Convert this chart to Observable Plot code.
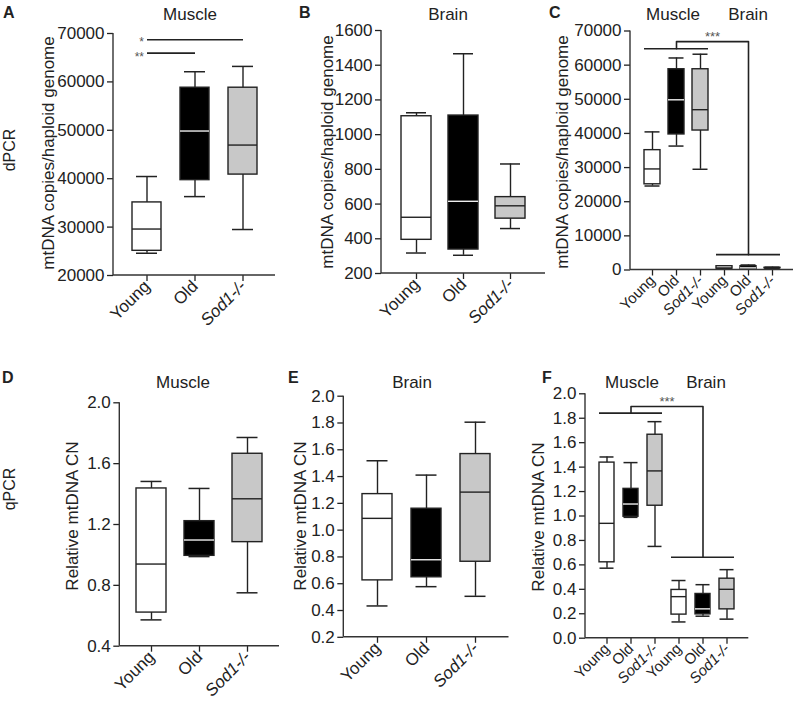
<!DOCTYPE html>
<html><head><meta charset="utf-8">
<script src="https://cdn.jsdelivr.net/npm/d3@7"></script>
<script src="https://cdn.jsdelivr.net/npm/@observablehq/plot@0.6"></script>
<style>
html,body{margin:0;padding:0;background:#fff;}
#fig{position:relative;width:794px;height:703px;overflow:hidden;font-family:"Liberation Sans",Arial,sans-serif;color:#222;background:#fff;}
.panel{position:absolute;}
.lab{position:absolute;white-space:nowrap;line-height:1;transform:translate(-50%,-50%);font-size:17px;}
.rot{transform:translate(-50%,-50%) rotate(-90deg);}
.letter{position:absolute;line-height:1;font-weight:bold;font-size:16px;}
</style></head><body><div id="fig"></div>
<script>
// ---------- data ----------
const groups = ["Young", "Old", "Sod1-/-"];
const tissues = ["Muscle", "Brain"];

// dPCR, muscle (mtDNA copies / haploid genome)
const dpcrMuscleMin    = [24600, 36300, 29500];
const dpcrMuscleQ1     = [25100, 39700, 40850];
const dpcrMuscleMedian = [29600, 49850, 46950];
const dpcrMuscleQ3     = [35100, 58800, 58800];
const dpcrMuscleMax    = [40450, 62100, 63200];

// dPCR, brain
const dpcrBrainMin    = [318, 305, 459];
const dpcrBrainQ1     = [394, 338, 516];
const dpcrBrainMedian = [524, 616, 590];
const dpcrBrainQ3     = [1106, 1110, 640];
const dpcrBrainMax    = [1126, 1466, 831];

// qPCR, muscle (relative mtDNA CN)
const qpcrMuscleMin    = [0.573, 0.989, 0.751];
const qpcrMuscleQ1     = [0.621, 0.994, 1.084];
const qpcrMuscleMedian = [0.940, 1.098, 1.369];
const qpcrMuscleQ3     = [1.437, 1.222, 1.665];
const qpcrMuscleMax    = [1.483, 1.437, 1.772];

// qPCR, brain (panel E)
const qpcrBrainMin    = [0.434, 0.578, 0.506];
const qpcrBrainQ1     = [0.625, 0.648, 0.764];
const qpcrBrainMedian = [1.088, 0.779, 1.284];
const qpcrBrainQ3     = [1.269, 1.160, 1.568];
const qpcrBrainMax    = [1.518, 1.411, 1.806];

// qPCR, brain relative to muscle (panel F)
const qpcrBrainRelMin    = [0.133, 0.180, 0.156];
const qpcrBrainRelQ1     = [0.193, 0.195, 0.236];
const qpcrBrainRelMedian = [0.340, 0.240, 0.400];
const qpcrBrainRelQ3     = [0.395, 0.362, 0.487];
const qpcrBrainRelMax    = [0.472, 0.438, 0.561];

// significance annotations
const sigAFrom  = ["Young", "Young"];
const sigATo    = ["Sod1-/-", "Old"];
const sigAY     = [68700, 65950];
const sigALabel = ["*", "**"];
const dpcrBracketY = [64800, 66900, 4500];   // muscle bar, top, brain bar
const qpcrBracketY = [1.842, 1.896, 0.663];
const bracketLabel = "***";

// y ticks
const ticksA = d3.range(20000, 70001, 10000);
const ticksB = d3.range(200, 1601, 200);
const ticksC = d3.range(0, 70001, 10000);
const ticksD = [0.4, 0.8, 1.2, 1.6, 2.0];
const ticksE = d3.range(2, 21, 2).map(v => v / 10);
const ticksF = d3.range(0, 21, 2).map(v => v / 10);

// ---------- helpers ----------
const palette = {Young: "white", Old: "black", "Sod1-/-": "#c8c8c8"};
const INK = "#222";
function rows(keys, mins, q1s, meds, q3s, maxs) {
  return keys.map((g, i) => ({g, grp: g.includes("|") ? g.split("|")[1] : g,
    min: mins[i], q1: q1s[i], median: meds[i], q3: q3s[i], max: maxs[i]}));
}
const lab = d => d.includes("|") ? d.split("|")[1] : d;

function panel(spec) {
  const {data, left, top, width, height, mL, mR, mT, mB, yDomain, yTicks, yFmt,
         pi, po, cap, xFont, extra = []} = spec;
  const keys = data.map(d => d.g);
  const light = data.filter(d => d.grp !== "Old");
  const dark = data.filter(d => d.grp === "Old");
  const svg = Plot.plot({
    width, height, marginLeft: mL, marginRight: mR, marginTop: mT, marginBottom: mB,
    style: {fontFamily: '"Liberation Sans", Arial, sans-serif', fontSize: "17px", color: INK,
            background: "transparent", overflow: "visible"},
    x: {domain: keys, paddingInner: pi, paddingOuter: po, label: null},
    y: {domain: yDomain, label: null},
    color: {domain: keys, range: data.map(d => palette[d.grp])},
    marks: [
      Plot.axisY(yTicks, {tickFormat: yFmt, tickSize: 6, tickPadding: 3, fontSize: 17,
                          strokeWidth: 1.3, label: null}),
      Plot.axisX({tickRotate: -45, tickSize: 6, tickPadding: 2, fontSize: xFont,
                  strokeWidth: 1.3, tickFormat: lab, label: null}),
      Plot.ruleX(data, {x: "g", y1: "min", y2: "max", stroke: INK, strokeWidth: 1.4}),
      Plot.tickY(data, {x: "g", y: "min", stroke: INK, strokeWidth: 1.5, insetLeft: cap, insetRight: cap}),
      Plot.tickY(data, {x: "g", y: "max", stroke: INK, strokeWidth: 1.5, insetLeft: cap, insetRight: cap}),
      Plot.barY(data, {x: "g", y1: "q1", y2: "q3", fill: "g", stroke: INK, strokeWidth: 1.4}),
      Plot.tickY(light, {x: "g", y: "median", stroke: INK, strokeWidth: 1.4}),
      Plot.tickY(dark, {x: "g", y: "median", stroke: "#eee", strokeWidth: 1.4}),
      ...extra
    ]
  });
  // axis lines (left and bottom), from the plot's own scales
  const yr = svg.scale("y").range;
  const g = d3.select(svg).append("g").attr("stroke", "#333").attr("stroke-width", 1.4);
  g.append("line").attr("x1", mL).attr("x2", mL).attr("y1", yr[0]).attr("y2", yr[1]);
  g.append("line").attr("x1", mL).attr("x2", width - mR).attr("y1", yr[0]).attr("y2", yr[0]);
  d3.select(svg).selectAll("text").filter(function () { return this.textContent === "Sod1-/-"; })
    .attr("font-style", "italic");
  const div = document.createElement("div");
  div.className = "panel";
  div.style.left = left + "px";
  div.style.top = top + "px";
  div.appendChild(svg);
  document.getElementById("fig").appendChild(div);
}

function bracket(yv, label) {
  const m = t => "Muscle|" + t, b = t => "Brain|" + t;
  const bars = [{a: m("Young"), z: m("Sod1-/-"), y: yv[0]}, {a: b("Young"), z: b("Sod1-/-"), y: yv[2]}];
  const path = [{x: m("Old"), y: yv[0]}, {x: m("Old"), y: yv[1]}, {x: b("Old"), y: yv[1]}, {x: b("Old"), y: yv[2]}];
  return [
    Plot.ruleY(bars, {y: "y", x1: "a", x2: "z", stroke: INK, strokeWidth: 1.6}),
    Plot.line(path, {x: "x", y: "y", stroke: INK, strokeWidth: 1.6}),
    Plot.text([{x: m("Sod1-/-"), y: yv[1], t: label}], {x: "x", y: "y", text: "t", dx: 12, dy: -5,
      fill: "#555", fontSize: 13})
  ];
}

const dpcrMuscle = rows(groups, dpcrMuscleMin, dpcrMuscleQ1, dpcrMuscleMedian, dpcrMuscleQ3, dpcrMuscleMax);
const dpcrBrain = rows(groups, dpcrBrainMin, dpcrBrainQ1, dpcrBrainMedian, dpcrBrainQ3, dpcrBrainMax);
const qpcrMuscle = rows(groups, qpcrMuscleMin, qpcrMuscleQ1, qpcrMuscleMedian, qpcrMuscleQ3, qpcrMuscleMax);
const qpcrBrain = rows(groups, qpcrBrainMin, qpcrBrainQ1, qpcrBrainMedian, qpcrBrainQ3, qpcrBrainMax);
const mk = t => groups.map(g => t + "|" + g);
const dpcrBoth = rows(mk("Muscle"), dpcrMuscleMin, dpcrMuscleQ1, dpcrMuscleMedian, dpcrMuscleQ3, dpcrMuscleMax)
  .concat(rows(mk("Brain"), dpcrBrainMin, dpcrBrainQ1, dpcrBrainMedian, dpcrBrainQ3, dpcrBrainMax));
const qpcrBoth = rows(mk("Muscle"), qpcrMuscleMin, qpcrMuscleQ1, qpcrMuscleMedian, qpcrMuscleQ3, qpcrMuscleMax)
  .concat(rows(mk("Brain"), qpcrBrainRelMin, qpcrBrainRelQ1, qpcrBrainRelMedian, qpcrBrainRelQ3, qpcrBrainRelMax));

const sigA = sigAFrom.map((f, i) => ({a: f, z: sigATo[i], y: sigAY[i], t: sigALabel[i]}));
const fmtInt = d3.format("d"), fmt1 = d3.format(".1f");

// A
panel({data: dpcrMuscle, left: 0, top: 0, width: 280, height: 345, mL: 113, mR: 5, mT: 33, mB: 70,
  yDomain: [20000, 70000], yTicks: ticksA, yFmt: fmtInt, pi: 0.4, po: 0.38, cap: 4, xFont: 17,
  extra: [
    Plot.link(sigA, {x1: "a", x2: "z", y1: "y", y2: "y", stroke: INK, strokeWidth: 1.6}),
    Plot.text(sigA.slice(0, 1), {x: "a", y: "y", text: "t", textAnchor: "end", dx: -3, dy: 2,
      fill: "#555", fontSize: 12}),
    Plot.text(sigA.slice(1), {x: "a", y: "y", text: "t", textAnchor: "end", dx: -3, dy: 4,
      fill: "#555", fontSize: 12})
  ]});
// B
panel({data: dpcrBrain, left: 280, top: 0, width: 270, height: 345, mL: 101, mR: 5, mT: 30, mB: 72,
  yDomain: [200, 1600], yTicks: ticksB, yFmt: fmtInt, pi: 0.36, po: 0.39, cap: 5, xFont: 17});
// C
panel({data: dpcrBoth, left: 550, top: 0, width: 244, height: 345, mL: 80, mR: 1, mT: 30.5, mB: 75.5,
  yDomain: [0, 70000], yTicks: ticksC, yFmt: fmtInt, pi: 0.35, po: 0.48, cap: 0.5, xFont: 15,
  extra: bracket(dpcrBracketY, bracketLabel)});
// D
panel({data: qpcrMuscle, left: 0, top: 345, width: 285, height: 358, mL: 119.3, mR: 6, mT: 57.3, mB: 57.3,
  yDomain: [0.4, 2.0], yTicks: ticksD, yFmt: fmt1, pi: 0.38, po: 0.335, cap: 4.5, xFont: 17});
// E
panel({data: qpcrBrain, left: 285, top: 345, width: 265, height: 358, mL: 58.3, mR: 41.5, mT: 50.7, mB: 66.2,
  yDomain: [0.2, 2.0], yTicks: ticksE, yFmt: fmt1, pi: 0.39, po: 0.354, cap: 4.5, xFont: 17});
// F
panel({data: qpcrBoth, left: 550, top: 345, width: 244, height: 358, mL: 35, mR: 45.7, mT: 48.3, mB: 65.3,
  yDomain: [0, 2.0], yTicks: ticksF, yFmt: fmt1, pi: 0.37, po: 0.49, cap: 0.5, xFont: 15,
  extra: bracket(qpcrBracketY, bracketLabel)});

// ---------- text labels ----------
const fig = document.getElementById("fig");
function addLabel(text, cx, cy, cls = "lab", size) {
  const d = document.createElement("div");
  d.className = cls;
  d.textContent = text;
  d.style.left = cx + "px";
  d.style.top = cy + "px";
  if (size) d.style.fontSize = size + "px";
  fig.appendChild(d);
}
function addLetter(text, x, y) {
  const d = document.createElement("div");
  d.className = "letter";
  d.textContent = text;
  d.style.left = x + "px";
  d.style.top = y + "px";
  fig.appendChild(d);
}
addLetter("A", 3, 5); addLetter("B", 299, 5); addLetter("C", 549, 5);
addLetter("D", 2, 370); addLetter("E", 288, 370); addLetter("F", 542, 370);

addLabel(tissues[0], 190, 14); addLabel(tissues[1], 448, 14);
addLabel(tissues[0], 673, 14); addLabel(tissues[1], 748, 14);
addLabel(tissues[0], 183, 382); addLabel(tissues[1], 412, 382);
addLabel(tissues[0], 632, 382); addLabel(tissues[1], 706, 382);

const yLab1 = "mtDNA copies/haploid genome", yLab2 = "Relative mtDNA CN";
addLabel(yLab1, 48, 153, "lab rot"); addLabel(yLab1, 327, 152, "lab rot"); addLabel(yLab1, 562, 152, "lab rot");
addLabel(yLab2, 72, 516, "lab rot"); addLabel(yLab2, 300, 516, "lab rot"); addLabel(yLab2, 538, 517, "lab rot");
addLabel("dPCR", 10, 150, "lab rot", 16); addLabel("qPCR", 10, 489, "lab rot", 16);
</script></body></html>
